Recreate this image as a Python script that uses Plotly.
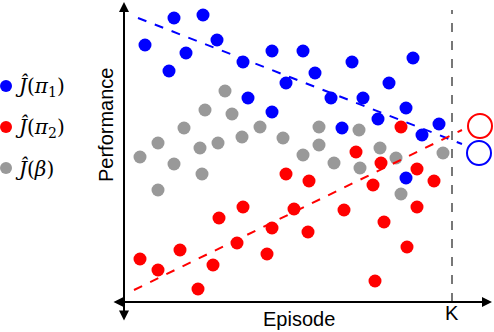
import plotly.graph_objects as go

# episode / performance values (arbitrary units)
blue_x = [50, 79, 21, 62, 45, 93, 119, 148, 179, 162, 124, 148, 228, 289, 191,
          265, 207, 239, 282, 254, 218, 315, 298, 282]
blue_y = [284, 287, 257, 249, 231, 262, 240, 251, 251, 219, 204, 190, 240, 244, 229,
          219, 204, 204, 194, 183, 174, 178, 167, 124]

red_x = [162, 185, 119, 95, 170, 148, 184, 56, 113, 16, 34, 89, 143, 74, 257,
         293, 249, 310, 220, 293, 260, 283, 251, 277, 232]
red_y = [128, 121, 95, 84, 93, 74, 70, 52, 59, 43, 32, 37, 48, 13, 139,
         133, 117, 121, 92, 95, 80, 55, 21, 175, 150]

gray_x = [101, 81, 108, 60, 136, 34, 76, 94, 118, 159, 195, 235, 16, 50, 179,
          195, 256, 78, 34, 210, 236, 272, 319, 277]
gray_y = [211, 192, 188, 174, 175, 159, 154, 159, 165, 164, 175, 172, 145, 138, 147,
          157, 154, 128, 112, 139, 134, 144, 149, 108]

# trend lines (start / end)
blue_trend_x = [14, 338]
blue_trend_y = [284, 158]
red_trend_x = [10, 338]
red_trend_y = [12, 172]

# estimates at episode K
K = 328
est_x = [356, 355]
est_y = [176, 149]
est_colors = ["red", "blue"]

labels = ["<i>Ĵ</i>(<i>π</i><sub>1</sub>)", "<i>Ĵ</i>(<i>π</i><sub>2</sub>)", "<i>Ĵ</i>(<i>β</i>)"]
colors = ["#0000ff", "#ff0000", "#999999"]

fig = go.Figure()

for xs, ys, col, name in zip([blue_x, red_x, gray_x], [blue_y, red_y, gray_y], colors, labels):
    fig.add_trace(go.Scatter(x=xs, y=ys, mode="markers", name=name, showlegend=False,
                             marker=dict(size=13, color=col)))

fig.add_trace(go.Scatter(x=blue_trend_x, y=blue_trend_y, mode="lines", showlegend=False,
                         line=dict(color="#0000ff", width=2, dash="dash")))
fig.add_trace(go.Scatter(x=red_trend_x, y=red_trend_y, mode="lines", showlegend=False,
                         line=dict(color="#ff0000", width=2, dash="dash")))
fig.add_trace(go.Scatter(x=est_x, y=est_y, mode="markers", showlegend=False,
                         cliponaxis=False,
                         marker=dict(size=24, symbol="circle-open", color=est_colors,
                                     line=dict(width=2))))

# hand-placed legend on the left
leg_x, leg_y0, leg_step = -118, 216, 41
leg_ys = [leg_y0 - i * leg_step for i in range(3)]
fig.add_trace(go.Scatter(x=[leg_x] * 3, y=leg_ys, mode="markers", showlegend=False,
                         cliponaxis=False, hoverinfo="skip",
                         marker=dict(size=12, color=colors)))
for ly, name in zip(leg_ys, labels):
    fig.add_annotation(x=leg_x + 7, y=ly, text=name, showarrow=False, xanchor="left",
                       font=dict(family="DejaVu Serif, serif", size=20, color="black"))

# K marker line
fig.add_shape(type="line", x0=K, x1=K, y0=0, y1=292,
              line=dict(color="#777777", width=2, dash="dash"))

# axes drawn as double-headed arrows
arrow = dict(text="", showarrow=True, arrowhead=2, startarrowhead=2, arrowside="end+start",
             arrowsize=1, arrowwidth=2, arrowcolor="black", xref="x", yref="y",
             axref="x", ayref="y")
fig.add_annotation(x=0, y=300, ax=0, ay=-20, **arrow)
fig.add_annotation(x=368, y=0, ax=-12, ay=0, **arrow)

sans = "Liberation Sans, Arial, sans-serif"
fig.add_annotation(x=175, y=-17, text="Episode", showarrow=False,
                   font=dict(family=sans, size=20, color="black"))
fig.add_annotation(x=K, y=-11, text="K", showarrow=False,
                   font=dict(family=sans, size=20, color="black"))
fig.add_annotation(x=-18, y=177, text="Performance", showarrow=False, textangle=-90,
                   font=dict(family=sans, size=20, color="black"))

fig.update_xaxes(range=[-124, 370], visible=False, fixedrange=True)
fig.update_yaxes(range=[-30, 302], visible=False, fixedrange=True)

fig.update_layout(
    width=494, height=332,
    margin=dict(l=0, r=0, t=0, b=0, autoexpand=False),
    plot_bgcolor="white", paper_bgcolor="white",
)

fig.write_html("out.html", config={"displayModeBar": False},
               post_script="document.body.style.margin='0px';")
